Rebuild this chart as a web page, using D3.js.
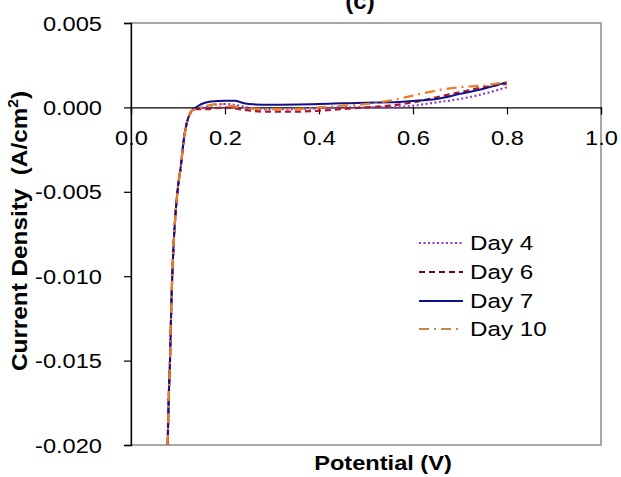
<!DOCTYPE html>
<html><head><meta charset="utf-8">
<script src="https://cdn.jsdelivr.net/npm/d3@7"></script>
<style>
body{margin:0;background:#fff;}
svg text{font-family:"Liberation Sans",Arial,sans-serif;fill:#000;}
</style></head>
<body><svg id="chart" width="621" height="477"></svg>
<script>
// ---- data ----
const seriesNames = ["Day 4", "Day 6", "Day 7", "Day 10"];
const xTicks = [0.0, 0.2, 0.4, 0.6, 0.8, 1.0];
const yTicks = [0.005, 0.000, -0.005, -0.010, -0.015, -0.020];

const day4Potential = [0.078,0.080,0.083,0.086,0.090,0.095,0.100,0.106,0.111,0.118,0.125,0.132,0.140,0.170,0.200,0.230,0.270,0.350,0.450,0.550,0.600,0.650,0.700,0.750,0.800];
const day4Current   = [-0.0200,-0.0175,-0.0150,-0.0115,-0.0085,-0.0062,-0.0047,-0.0035,-0.0022,-0.0010,-0.0004,-0.00015,-0.0001,0.0001,0.0002,0.0001,-0.0001,-0.0001,0.0000,0.0000,0.0001,0.0003,0.0005,0.0008,0.0012];

const day6Potential = [0.078,0.080,0.083,0.086,0.090,0.095,0.100,0.106,0.111,0.118,0.125,0.132,0.140,0.160,0.200,0.230,0.280,0.350,0.400,0.450,0.500,0.550,0.600,0.650,0.700,0.750,0.800];
const day6Current   = [-0.0200,-0.0175,-0.0150,-0.0115,-0.0085,-0.0062,-0.0047,-0.0035,-0.0022,-0.0010,-0.0004,-0.00015,-0.0001,-0.0001,0.0000,-0.0001,-0.00025,-0.00025,-0.0002,-0.0001,0.0000,0.0001,0.0003,0.0006,0.0009,0.0012,0.0014];

const day7Potential = [0.078,0.080,0.083,0.086,0.090,0.095,0.100,0.106,0.111,0.118,0.125,0.132,0.138,0.150,0.170,0.200,0.220,0.240,0.260,0.300,0.400,0.500,0.550,0.600,0.650,0.700,0.750,0.800];
const day7Current   = [-0.0200,-0.0175,-0.0150,-0.0115,-0.0085,-0.0062,-0.0047,-0.0035,-0.0022,-0.0010,-0.0004,-0.0001,0.0000,0.0002,0.00035,0.0004,0.0004,0.00025,0.00018,0.00016,0.0002,0.00028,0.0003,0.00038,0.0005,0.0008,0.0011,0.0015];

const day10Potential = [0.078,0.080,0.083,0.086,0.090,0.095,0.100,0.106,0.111,0.118,0.125,0.132,0.140,0.150,0.170,0.190,0.210,0.250,0.300,0.350,0.400,0.450,0.500,0.550,0.600,0.650,0.700,0.750,0.800];
const day10Current   = [-0.0200,-0.0175,-0.0150,-0.0115,-0.0085,-0.0062,-0.0047,-0.0035,-0.0022,-0.0010,-0.0004,-0.00015,-0.0001,0.0000,0.00015,0.0002,0.0001,-0.00005,-0.0001,-0.0001,0.0000,0.0001,0.0002,0.0004,0.0007,0.0010,0.0012,0.0013,0.0015];

const seriesColors = ["#8a3fc8", "#b0142a", "#10108a", "#ec7d22"];
const legendColors = ["#8a3fc8", "#800000", "#10108a", "#c08a40"];
const seriesDash = ["2,2.5", "6,4", null, "10,5,2,5"];

// ---- build ----
const series = [
  {name: seriesNames[0], x: day4Potential, y: day4Current},
  {name: seriesNames[1], x: day6Potential, y: day6Current},
  {name: seriesNames[2], x: day7Potential, y: day7Current},
  {name: seriesNames[3], x: day10Potential, y: day10Current}
];

const svg = d3.select("#chart");
const stretch = 1.18;
function stretchText(sel){
  sel.each(function(){
    const len = this.getComputedTextLength();
    d3.select(this).attr("textLength", len*stretch).attr("lengthAdjust","spacingAndGlyphs");
  });
}

const L = 131, R = 601, T = 23, B = 445;
const x = d3.scaleLinear().domain([0, 1]).range([L, R]);
const y = d3.scaleLinear().domain([-0.020, 0.005]).range([B, T]);

// frame
svg.append("rect").attr("x", L).attr("y", T).attr("width", R-L).attr("height", B-T)
  .attr("fill","none").attr("stroke","#8c8c8c").attr("stroke-width",1.5);

// y axis
const yAxis = svg.append("g").attr("transform",`translate(${L},0)`)
  .call(d3.axisLeft(y).tickValues(yTicks).tickFormat(d3.format(".3f")).tickSize(7).tickPadding(22));
yAxis.select(".domain").attr("stroke","#000").attr("stroke-width",1.3);
yAxis.selectAll(".tick line").attr("stroke","#000").attr("stroke-width",1.2);
yAxis.selectAll("text").attr("font-size",20).attr("font-family","Liberation Sans, Arial, sans-serif").attr("dy","0.35em")
  .text(d => d3.format(".3f")(d).replace("−","-")).call(stretchText);

// x axis at zero
const xAxis = svg.append("g").attr("transform",`translate(0,${y(0)})`)
  .call(d3.axisBottom(x).tickValues(xTicks).tickFormat(d3.format(".1f")).tickSize(7).tickPadding(16));
xAxis.select(".domain").attr("stroke","#000").attr("stroke-width",1.2);
xAxis.selectAll(".tick line").attr("stroke","#000").attr("stroke-width",1.2);
xAxis.selectAll("text").attr("font-size",20).attr("font-family","Liberation Sans, Arial, sans-serif").call(stretchText);

// lines
const line = d3.line().x(d => x(d[0])).y(d => y(d[1])).curve(d3.curveMonotoneX);
series.forEach((s, i) => {
  const pts = s.x.map((v, j) => [v, s.y[j]]);
  svg.append("path").datum(pts).attr("d", line)
    .attr("fill","none").attr("stroke", seriesColors[i])
    .attr("stroke-width", i === 2 ? 2 : 2.2)
    .attr("stroke-dasharray", seriesDash[i])
    .attr("stroke-linejoin","round");
});

// legend
const legendY = [243, 272, 301, 329];
series.forEach((s, i) => {
  svg.append("line").attr("x1",419).attr("x2",463).attr("y1",legendY[i]).attr("y2",legendY[i])
    .attr("stroke", legendColors[i]).attr("stroke-width",2).attr("stroke-dasharray", seriesDash[i]);
  svg.append("text").attr("x",470).attr("y",legendY[i]).attr("dy","0.35em")
    .attr("font-size",20.5).text(s.name).call(stretchText);
});

// axis titles
svg.append("text").attr("x",383).attr("y",470).attr("text-anchor","middle")
  .attr("font-size",20).attr("font-weight","bold").text("Potential (V)").call(stretchText);

const yt = svg.append("text").attr("transform","translate(27,231) rotate(-90)").attr("text-anchor","middle")
  .attr("font-size",22).attr("font-weight","bold")
  .attr("textLength",280).attr("lengthAdjust","spacingAndGlyphs");
yt.append("tspan").text("Current Density\u00a0\u00a0(A/cm");
yt.append("tspan").attr("font-size",14).attr("dy",-9).text("2");
yt.append("tspan").attr("dy",9).text(")");

// title (cropped at top in the reference)
svg.append("text").attr("x",360).attr("y",9).attr("text-anchor","middle")
  .attr("font-size",24).attr("font-weight","bold").text("(c)");
</script></body></html>
